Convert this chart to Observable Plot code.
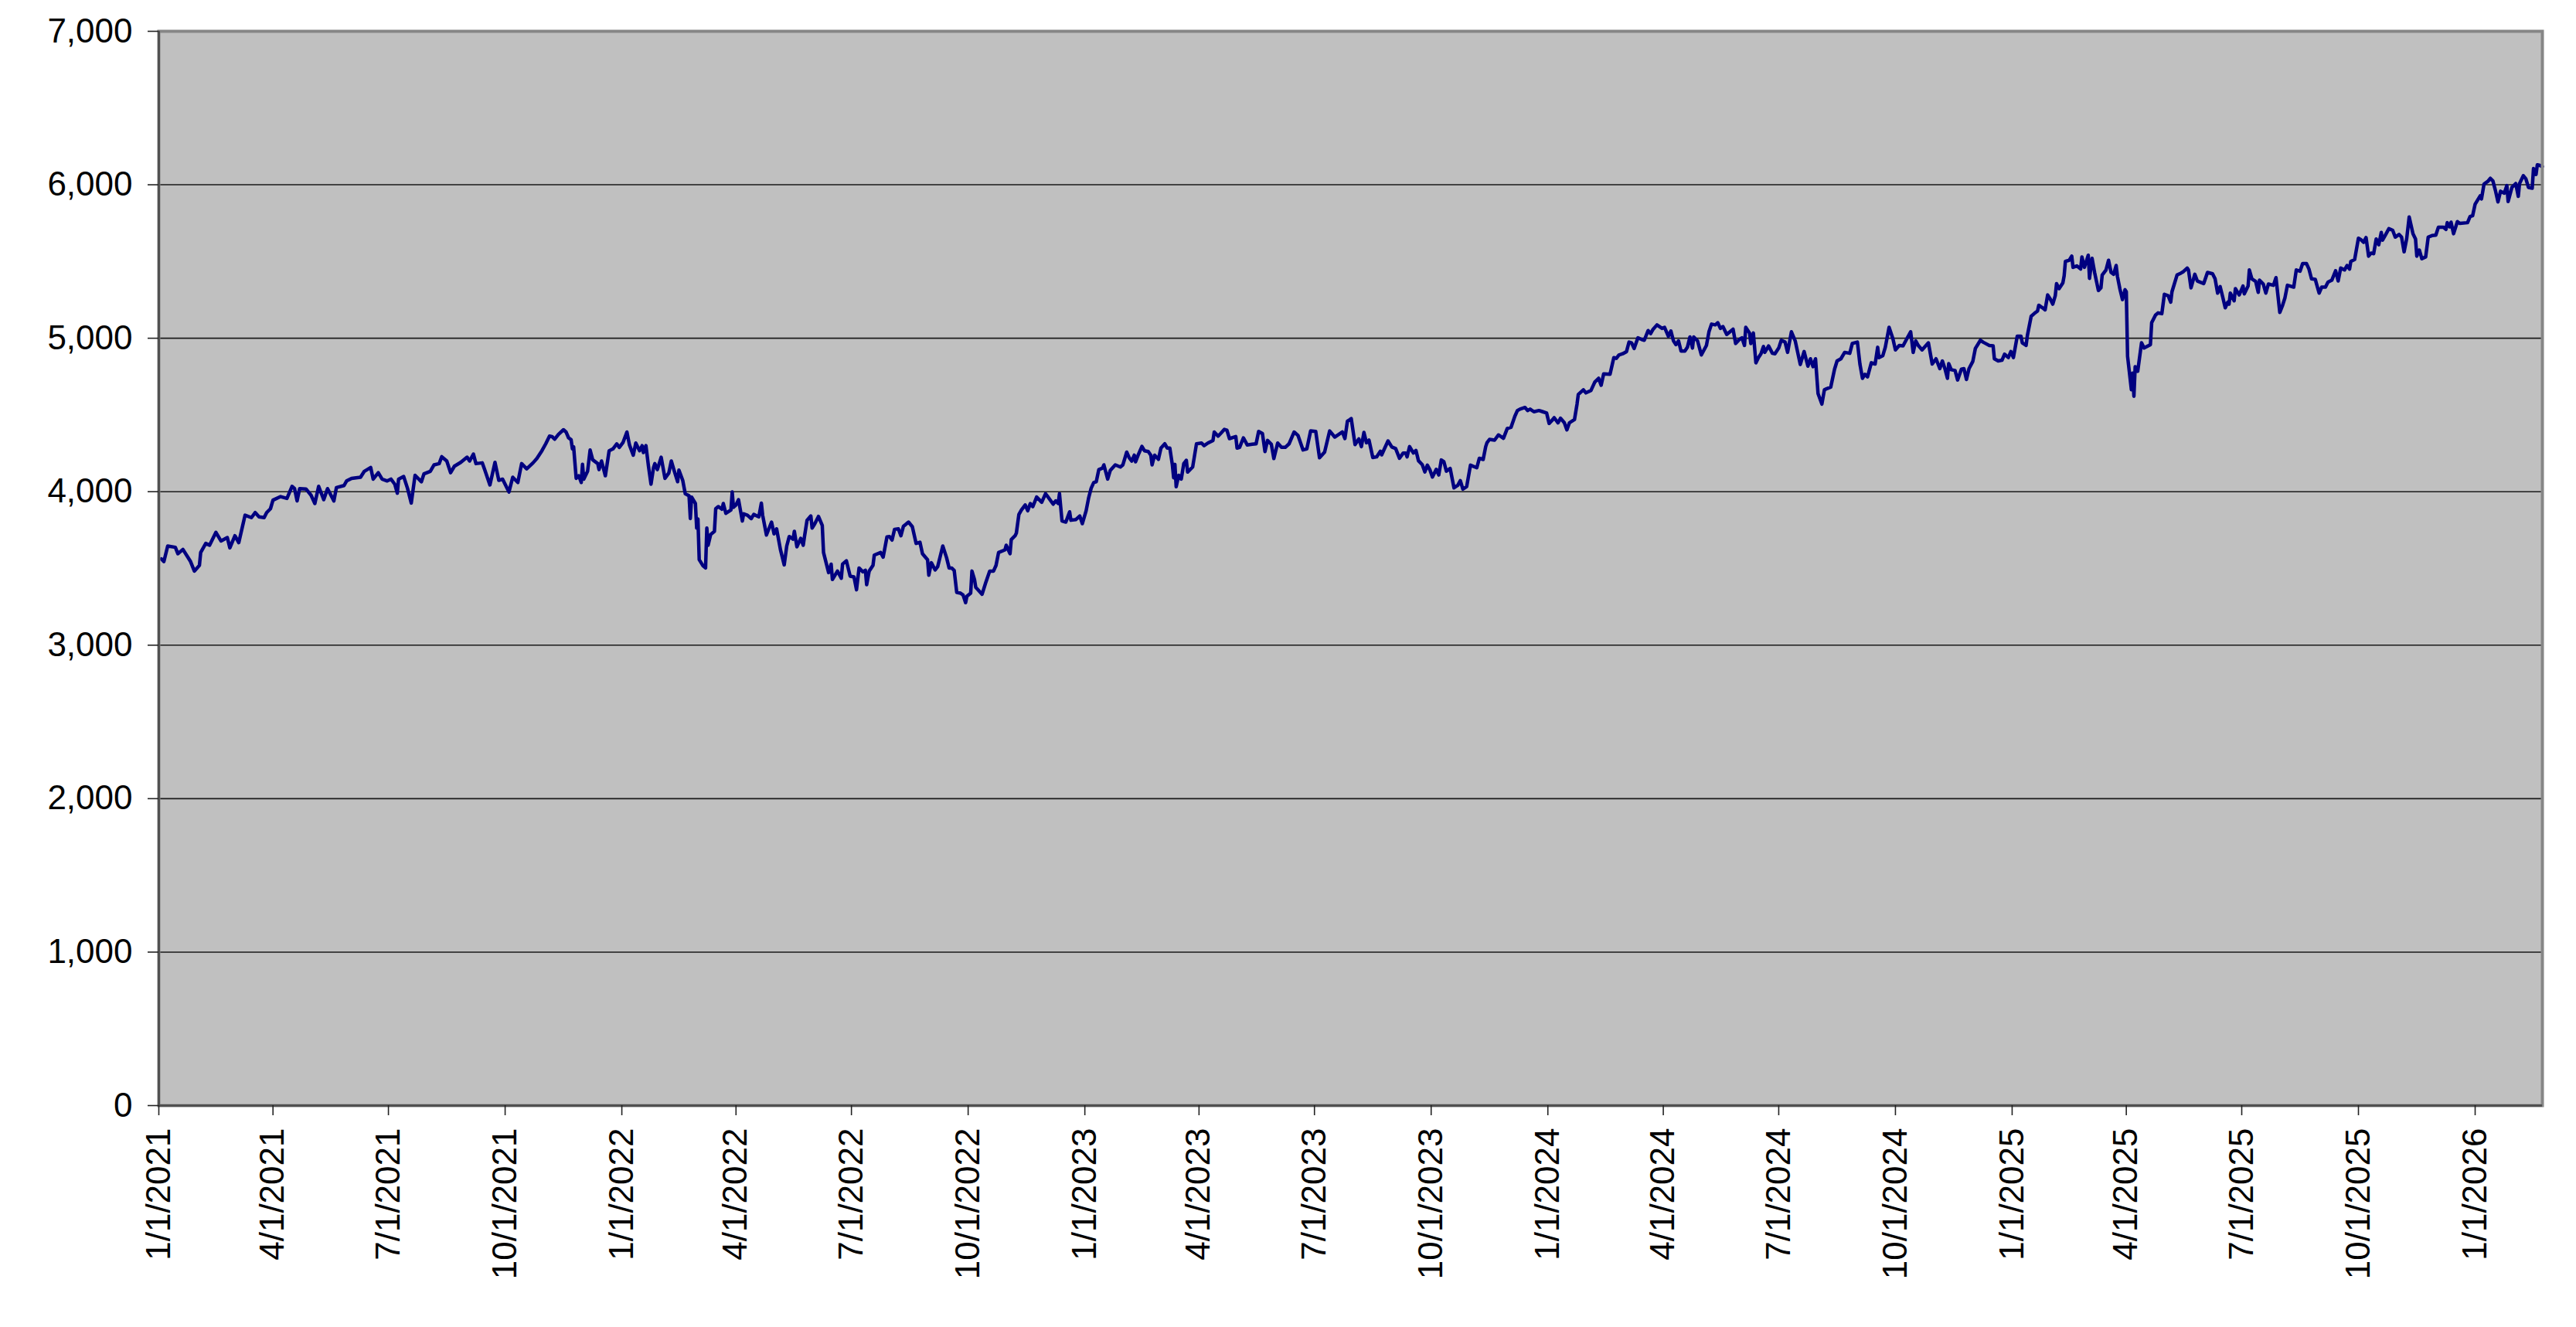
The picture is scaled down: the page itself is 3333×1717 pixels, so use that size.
<!DOCTYPE html>
<html>
<head>
<meta charset="utf-8">
<script src="https://cdn.jsdelivr.net/npm/d3@7"></script>
<script src="https://cdn.jsdelivr.net/npm/@observablehq/plot@0.6"></script>
<style>
  html, body { margin: 0; padding: 0; background: #fff; }
</style>
</head>
<body>
<div id="chart"></div>
<script>
// Day offsets from 1/1/2021 and index values
const days = [
2,4,7,13,15,19,25,28,32,33,37,40,45,49,54,56,60,63,68,73,76,79,83,85,88,90,96,101,105,107,109,111,116,120,123,126,130,133,138,140,146,148,152,159,162,167,169,173,176,180,183,186,188,189,193,196,199,202,207,209,214,217,221,223,227,230,233,238,243,245,248,250,255,257,261,265,268,271,276,279,283,286,290,295,298,302,305,308,
310,312,315,319,321,323,325,326,327,329,331,333,334,335,338,340,342,346,347,349,352,355,358,361,363,366,369,371,374,376,379,381,382,384,386,388,390,391,393,396,399,402,404,406,409,410,413,415,418,419,420,423,424,425,426,429,431,432,433,435,438,439,441,444,445,447,451,452,453,455,457,460,461,464,467,469,473,475,476,479,483,485,487,490,493,495,497,500,501,503,506,508,509,511,514,515,517,520,523,524,528,530,531,535,538,539,542,545,548,550,552,555,557,558,560,563,564,569,571,574,576,578,580,583,585,587,591,594,597,600,602,606,607,609,612,614,618,621,623,
625,627,629,632,634,636,637,640,641,643,644,649,652,655,658,660,662,667,668,671,672,675,676,678,680,683,685,687,689,692,696,699,701,705,707,709,710,712,715,718,719,723,726,728,731,733,735,737,739,741,744,745,748,750,754,758,760,763,765,767,769,770,772,775,777,780,782,783,785,788,790,793,795,797,799,800,801,802,804,806,808,810,811,815,818,822,824,827,831,832,835,837,840,842,844,849,850,852,855,858,862,865,867,870,872,874,877,879,882,885,888,891,895,898,902,905,908,912,915,919,923,927,933,935,937,
939,940,943,946,948,950,952,954,957,960,963,964,966,969,972,975,978,981,983,984,986,989,991,993,996,998,1000,1002,1004,1007,1009,1011,1013,1015,1018,1021,1024,1026,1028,1031,1034,1039,1041,1044,1046,1047,1049,1053,1056,1060,1063,1066,1069,1071,1073,1077,1079,1081,1084,1088,1091,1094,1096,1098,1100,1103,1105,1108,1110,1112,1115,1116,1118,1119,1123,1125,1129,1132,1135,1137,1139,1144,1147,1149,1151,1154,1157,1159,1161,1163,1166,1169,1171,1174,1176,1178,1181,1185,1187,1190,1192,1194,1196,1198,1200,1203,1205,1207,1209,1210,1213,1216,1220,1222,1224,1227,1229,1231,1233,1236,1241,1243,1246,1248,1250,1251,
1254,1255,1257,1259,1261,1263,1265,1266,1269,1272,1274,1277,1279,1282,1284,1287,1290,1294,1297,1300,1302,1304,1306,1308,1311,1313,1315,1318,1321,1323,1326,1329,1333,1335,1339,1341,1343,1345,1347,1350,1353,1355,1356,1359,1361,1364,1367,1369,1372,1375,1378,1381,1383,1385,1387,1390,1395,1398,1401,1404,1406,1408,1410,1411,1413,1416,1418,1421,1423,1425,1427,1430,1432,1436,1438,1440,1443,1446,1447,1450,1453,1455,1458,1460,1462,1465,1468,1469,1472,1473,1476,1479,1481,1482,1485,1487,1489,1491,1493,1495,1496,1498,1501,1502,1503,1506,1508,1509,1512,1515,1516,1518,1521,1522,1524,1526,1529,1531,1532,1535,1537,1539,1541,1543,1544,1546,1548,1550,1551,1552,1555,1556,1557,1558,1560,1563,1565,
1570,1571,1574,1576,1579,1581,1584,1586,1587,1591,1594,1596,1599,1600,1602,1605,1607,1612,1615,1619,1621,1623,1625,1627,1629,1631,1632,1633,1636,1637,1640,1643,1644,1647,1648,1650,1653,1655,1656,1659,1661,1663,1667,1669,1672,1674,1676,1678,1683,1685,1688,1690,1693,1695,1697,1700,1701,1703,1705,1708,1710,1713,1716,1718,1720,1723,1725,1727,1728,1731,1734,1736,1738,1740,1742,1744,1746,1748,1750,1752,1753,1755,1758,1761,1763,1766,1768,1770,1772,1774,1777,1779,1780,1782,1784,1787,1789,1792,1795,1797,1801,1803,1804,1806,1807,1809,1812,1814,1820,1822,1824,1826,1830,1831,1833,1836,1838,1840,1842,1844,1846,1849,1851,1852,1855,1858,1860,1861,1864,1866,1868,1871,1872,1874,1875,1877,1879
];
const values = [
3562,3545,3646,3638,3596,3624,3545,3483,3520,3604,3663,3651,3735,3679,3701,3634,3713,3668,3847,3831,3864,3836,3831,3864,3889,3945,3968,3956,4035,4020,3940,4020,4018,3977,3923,4035,3948,4020,3940,4027,4040,4070,4087,4094,4133,4158,4082,4124,4082,4070,4082,4049,3990,4082,4099,4023,3926,4107,4065,4116,4133,4175,4183,4228,4200,4124,4166,4191,4225,4200,4245,4183,4188,4141,4044,4191,4074,4082,3998,4094,4060,4183,4149,4188,4216,4267,4312,4362,
4359,4342,4373,4404,4389,4351,4339,4279,4292,4087,4104,4060,4178,4082,4133,4272,4208,4183,4144,4200,4104,4267,4279,4312,4289,4322,4389,4305,4238,4317,4267,4300,4255,4300,4166,4049,4158,4183,4144,4225,4087,4121,4200,4144,4065,4141,4074,3987,3973,3825,3965,3923,3763,3822,3557,3517,3503,3763,3651,3721,3742,3889,3903,3886,3923,3859,3881,3998,3898,3914,3948,3809,3856,3847,3825,3852,3836,3926,3847,3718,3802,3725,3758,3624,3523,3646,3708,3691,3742,3641,3696,3651,3708,3814,3842,3763,3789,3839,3780,3604,3473,3528,3428,3483,3436,3528,3550,3450,3445,3361,3503,3478,3488,3394,3483,3520,3587,3604,3574,3705,3708,3685,3755,3758,3713,3775,3802,3772,3663,3671,3596,3557,3456,3537,3490,3512,3646,3570,3503,
3503,3487,3344,3339,3327,3277,3319,3339,3483,3428,3377,3332,3411,3483,3483,3520,3604,3621,3651,3596,3688,3713,3730,3852,3881,3914,3876,3923,3903,3965,3931,3987,3965,3919,3940,3923,3987,3809,3802,3869,3814,3819,3842,3792,3876,3960,4023,4060,4065,4144,4154,4175,4082,4138,4175,4161,4175,4258,4221,4200,4238,4195,4238,4295,4267,4262,4238,4175,4238,4211,4284,4312,4284,4284,4175,4091,4178,4032,4107,4082,4183,4205,4128,4161,4312,4317,4300,4317,4334,4389,4362,4379,4406,4401,4346,4359,4284,4289,4351,4305,4309,4312,4393,4379,4262,4334,4309,4216,4317,4289,4289,4312,4389,4367,4272,4279,4396,4393,4221,4258,4396,4356,4389,4346,4460,
4470,4476,4307,4344,4294,4386,4319,4336,4223,4227,4264,4240,4277,4331,4291,4281,4218,4252,4252,4227,4294,4252,4269,4202,4176,4129,4173,4143,4096,4146,4109,4207,4196,4134,4151,4025,4042,4072,4017,4033,4173,4156,4218,4210,4294,4319,4341,4336,4370,4348,4412,4420,4492,4529,4538,4549,4529,4538,4521,4529,4521,4513,4445,4462,4482,4449,4479,4449,4403,4449,4465,4470,4571,4634,4664,4644,4660,4714,4739,4694,4768,4765,4874,4869,4891,4899,4913,4975,4970,4933,5003,4992,4987,5050,5030,5059,5087,5064,5071,5013,5047,4983,4958,4983,4916,4916,4941,5008,4936,5008,4983,4891,4953,5042,5092,5087,5101,5064,5076,5025,5059,4966,4992,5003,4953,5071,
5034,4966,5034,4840,4874,4899,4946,4908,4950,4902,4899,4936,4987,4975,4908,5042,4983,4829,4913,4818,4866,4815,4866,4639,4571,4664,4672,4681,4798,4852,4866,4908,4902,4966,4975,4832,4739,4765,4748,4840,4832,4941,4874,4886,4941,5071,4997,4924,4953,4950,4997,5042,4908,4983,4953,4924,4970,4832,4866,4802,4852,4802,4739,4835,4795,4790,4728,4798,4802,4731,4802,4849,4933,4987,4975,4966,4953,4950,4866,4852,4857,4896,4874,4913,4874,5013,5013,4970,4953,5017,5143,5165,5177,5215,5198,5185,5282,5256,5222,5277,5356,5323,5361,5407,5501,5508,5535,5462,5471,5451,5530,5462,5541,5390,5521,5429,5311,5328,5412,5445,5508,5429,5417,5474,5403,5319,5252,5316,5303,4882,4664,4773,4622,4815,4785,4970,4936,
4958,5101,5151,5165,5160,5286,5277,5235,5303,5412,5424,5434,5457,5445,5328,5417,5373,5356,5429,5420,5387,5294,5336,5269,5198,5235,5222,5294,5244,5323,5282,5340,5289,5340,5445,5387,5370,5299,5378,5353,5294,5353,5345,5395,5168,5210,5261,5345,5333,5445,5437,5487,5487,5451,5387,5383,5353,5294,5333,5333,5366,5378,5440,5373,5457,5445,5474,5451,5501,5513,5652,5642,5625,5656,5535,5555,5551,5647,5609,5689,5639,5669,5714,5703,5659,5676,5659,5563,5647,5790,5681,5647,5535,5575,5518,5530,5659,5669,5672,5723,5723,5709,5753,5726,5756,5681,5760,5748,5753,5793,5798,5874,5928,5908,6005,6022,6042,6025,5962,5888,5958,5945,5995,5891,5983,6008,5925,6008,6059,6039,5983,5978,6106,6067,6130,6126,6118
];
const xTickDates = [
"2021-01-01","2021-04-01","2021-07-01","2021-10-01",
"2022-01-01","2022-04-01","2022-07-01","2022-10-01",
"2023-01-01","2023-04-01","2023-07-01","2023-10-01",
"2024-01-01","2024-04-01","2024-07-01","2024-10-01",
"2025-01-01","2025-04-01","2025-07-01","2025-10-01",
"2026-01-01"
];
const yTicks = [0, 1000, 2000, 3000, 4000, 5000, 6000, 7000];
const startDay = "2021-01-01";
const lastDay = 1879;

const t0 = Date.parse(startDay + "T00:00:00Z");
const data = days.map((d, i) => ({date: new Date(t0 + d * 864e5), value: values[i]}));
const xTicks = xTickDates.map(s => new Date(s + "T00:00:00Z"));
const x0 = new Date(t0), x1 = new Date(t0 + lastDay * 864e5);

const chart = Plot.plot({
  width: 3333,
  height: 1717,
  marginTop: 40,
  marginRight: 44,
  marginBottom: 287,
  marginLeft: 205,
  style: {fontFamily: "'Liberation Sans', Arial, sans-serif", fontSize: "44px", color: "#000", background: "#fff", overflow: "visible"},
  x: {type: "utc", domain: [x0, x1], label: null},
  y: {domain: [0, 7000], label: null},
  marks: [
    Plot.frame({fill: "#C0C0C0", stroke: null}),
    Plot.gridY(yTicks.filter(v => v > 0 && v < 7000), {stroke: "#1a1a1a", strokeOpacity: 1, strokeWidth: 1.6}),
    Plot.line(data, {x: "date", y: "value", stroke: "#000080", strokeWidth: 4.5, strokeLinejoin: "round"}),
    Plot.frame({stroke: "#868686", strokeWidth: 4}),
    Plot.ruleX([x0], {stroke: "#505050", strokeWidth: 3}),
    Plot.ruleY([0], {stroke: "#505050", strokeWidth: 3}),
    Plot.axisY({ticks: yTicks, tickFormat: d3.format(","), tickSize: 14, tickPadding: 20, stroke: "#222", strokeWidth: 1.6, fontSize: 44, label: null}),
    Plot.axisX({ticks: xTicks, tickFormat: d3.utcFormat("%-m/%-d/%Y"), tickRotate: -90, tickSize: 13, tickPadding: 16, stroke: "#222", strokeWidth: 1.6, fontSize: 44, label: null})
  ]
});
document.getElementById("chart").appendChild(chart);
</script>
</body>
</html>
